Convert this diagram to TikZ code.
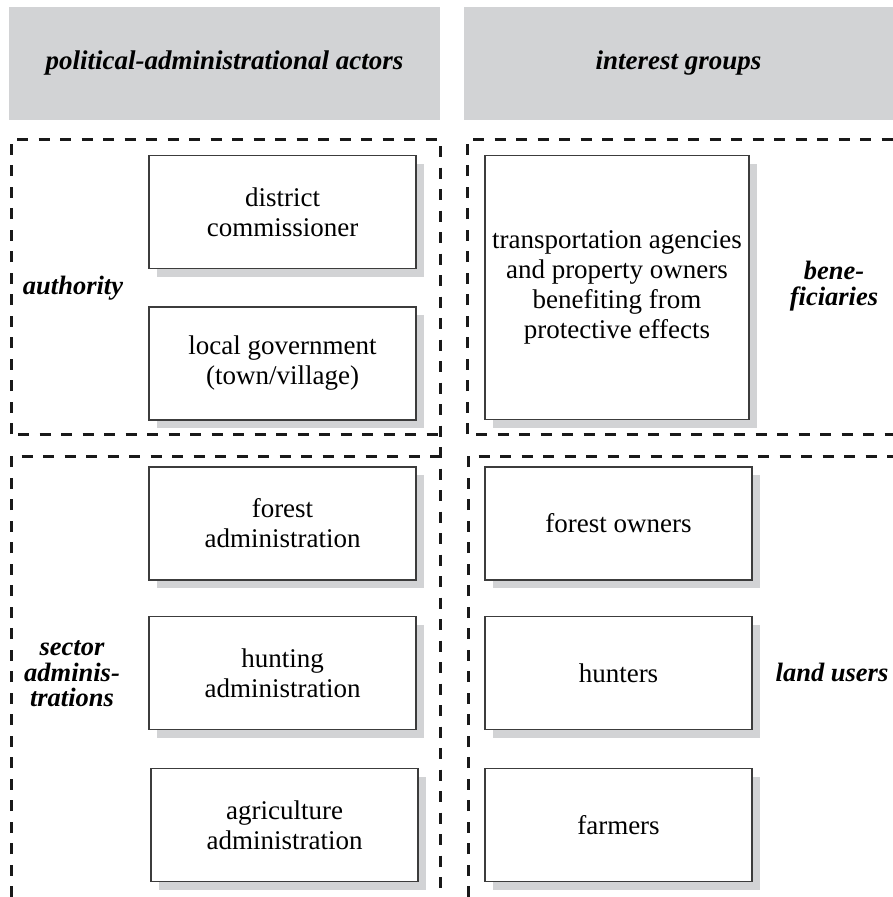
\documentclass[tikz,border=0pt]{standalone}
\usepackage{fontspec}
\setmainfont{Liberation Serif}
\usetikzlibrary{shadows}
\definecolor{shadegray}{RGB}{210,211,213}
\definecolor{boxline}{RGB}{60,60,60}
\tikzset{
  header/.style={fill=shadegray, draw=none, minimum width=#1, minimum height=113pt,
    inner sep=0pt, font=\fontsize{27}{30}\selectfont\bfseries\itshape},
  actor/.style={draw=boxline, line width=1.1pt, fill=white, minimum width=267pt, minimum height=113pt,
    inner sep=0pt, align=center, font=\fontsize{27}{30}\selectfont,
    drop shadow={shadow xshift=8pt, shadow yshift=-8pt, fill=shadegray, opacity=1}},
  grouplabel/.style={align=center, inner sep=0pt, font=\fontsize{26.5}{25.5}\selectfont\bfseries\itshape},
  region/.style={draw=black!90, line width=3pt, dash pattern=on 11pt off 10.5pt},
}
\begin{document}
\begin{tikzpicture}[x=1pt,y=-1pt]
\useasboundingbox (0,0) rectangle (893,897);
% headers
\node[header=431pt] (hpol) at (224.5,63.5) {political-administrational actors};
\node[header=429pt] (hint) at (678.5,63.5) {interest groups};
% dashed regions
\draw[region] (11,434) -- (11,139) -- (440,139) -- (440,897);
\draw[region] (18,434) -- (440,434);
\draw[region] (11,897) -- (11,456) -- (440,456);
\draw[region] (467,434) -- (467,139) -- (893,139);
\draw[region] (476,434) -- (893,434);
\draw[region] (468,897) -- (468,456) -- (893,456);
% left boxes
\node[actor] (dc) at (282.5,212) {district\\commissioner};
\node[actor] (lg) at (282.5,363.5) {local government\\(town/village)};
\node[actor] (fa) at (282.5,523.5) {forest\\administration};
\node[actor] (ha) at (282.5,673) {hunting\\administration};
\node[actor] (aa) at (284.5,825) {agriculture\\administration};
% right boxes
\node[actor, minimum width=264pt, minimum height=264pt] (tr) at (617,287.5)
  {transportation agencies\\and property owners\\benefiting from\\protective effects};
\node[actor] (fo) at (618.5,523.5) {forest owners};
\node[actor] (hu) at (618.5,673) {hunters};
\node[actor] (fm) at (618.5,825) {farmers};
% labels
\node[grouplabel] (auth) at (73,288) {authority};
\node[grouplabel] (sect) at (72,674) {sector\\adminis-\\trations};
\node[grouplabel] (bene) at (834,286) {bene-\\ficiaries};
\node[grouplabel] (land) at (832,672) {land users};
\end{tikzpicture}
\end{document}
